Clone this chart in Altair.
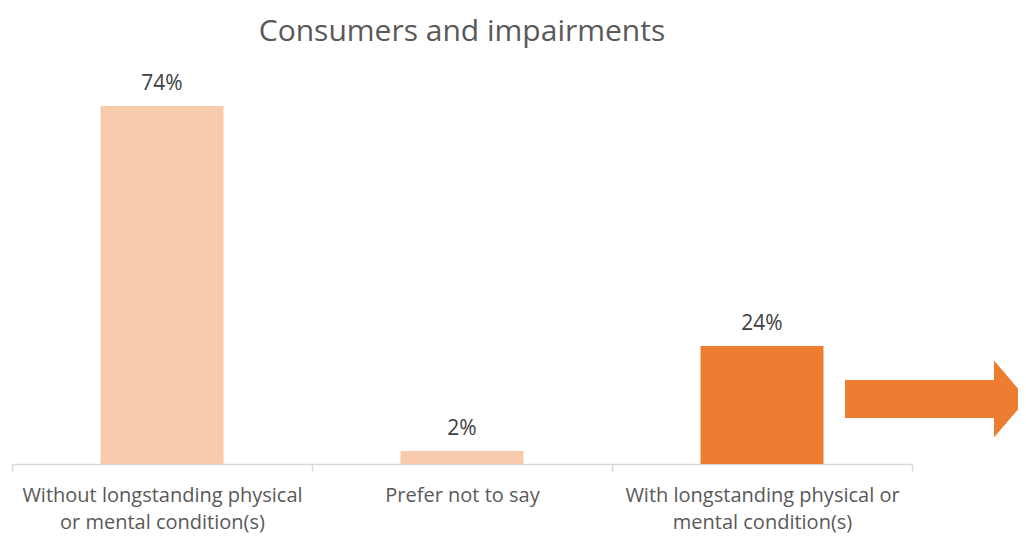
import json
import altair as alt
import pandas as pd

categories = [
    "Without longstanding physical or mental condition(s)",
    "Prefer not to say",
    "With longstanding physical or mental condition(s)",
]
label_lines = [
    ["Without longstanding physical", "or mental condition(s)"],
    ["Prefer not to say"],
    ["With longstanding physical or", "mental condition(s)"],
]
values = [74.0, 2.7, 24.4]
value_labels = ["74%", "2%", "24%"]
bar_colors = ["#F8CBAD", "#F8CBAD", "#ED7D31"]

df = pd.DataFrame({
    "category": categories,
    "value": values,
    "label": value_labels,
    "color": bar_colors,
})

# multi-line axis labels
expr = "datum.value"
for cat, lines in reversed(list(zip(categories, label_lines))):
    expr = f"datum.value == {json.dumps(cat)} ? {json.dumps(lines)} : ({expr})"

x = alt.X(
    "category:N",
    sort=categories,
    scale=alt.Scale(paddingInner=0, paddingOuter=0),
    axis=alt.Axis(
        title=None,
        labelAngle=0,
        labelExpr=expr,
        labelFont="Open Sans",
        labelFontSize=20,
        labelColor="#595959",
        labelLineHeight=27,
        labelPadding=14,
        labelBaseline="top",
        labelLimit=0,
        tickBand="extent",
        tickSize=7,
        tickColor="#D9D9D9",
        domainColor="#D9D9D9",
        domainWidth=1.5,
        tickWidth=1.5,
    ),
)
y = alt.Y("value:Q", scale=alt.Scale(domain=[0, 80]), axis=None)

base = alt.Chart(df)

bars = base.mark_bar(size=123).encode(
    x=x, y=y, color=alt.Color("color:N", scale=None)
)

texts = base.mark_text(
    baseline="bottom", dy=-12, font="Open Sans", fontSize=21, color="#404040"
).encode(x=alt.X("category:N", sort=categories), y="value:Q", text="label:N")

arrow_path = ("M -1 -0.209 L 0.637 -0.209 L 0.637 -0.423 L 1 0 "
              "L 0.637 0.423 L 0.637 0.209 L -1 0.209 Z")
arrow = alt.Chart(pd.DataFrame({"k": [1]})).mark_point(
    shape=arrow_path, filled=True, color="#ED7D31", opacity=1, size=33124,
    strokeWidth=0,
).encode(x=alt.value(924), y=alt.value(322))

chart = (
    alt.layer(bars, texts, arrow)
    .properties(
        width=900,
        height=387,
        title=alt.TitleParams(
            "Consumers and impairments",
            font="Open Sans",
            fontSize=30,
            fontWeight="normal",
            color="#595959",
            anchor="middle",
            offset=26,
        ),
        autosize=alt.AutoSizeParams(type="none"),
        padding={"left": 4, "top": 69, "right": 106, "bottom": 71},
    )
    .configure_view(stroke=None)
)

chart.save("out.html", embed_options={"renderer": "svg", "actions": False})
